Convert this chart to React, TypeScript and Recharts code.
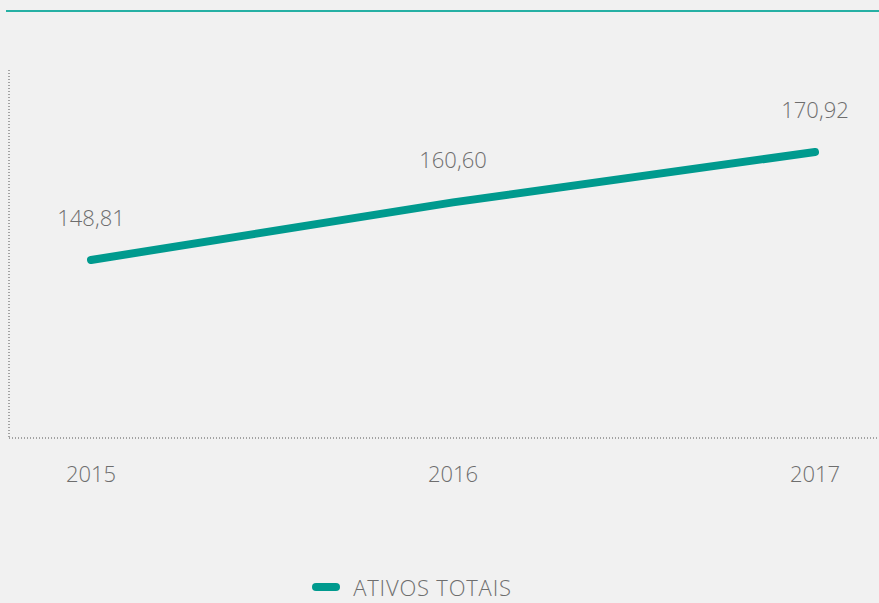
import { LineChart, Line, XAxis, YAxis, LabelList } from 'recharts';

const years = ['2015', '2016', '2017'];
const ativosTotais = [148.81, 160.6, 170.92];
const seriesName = 'ATIVOS TOTAIS';

const data = years.map((y, i) => ({ year: y, value: ativosTotais[i] }));

const teal = '#009a8e';
const textColor = '#6e6e6e';
const font = '"Open Sans", sans-serif';

const fmt = (v: number) => v.toFixed(2).replace('.', ',');

function LegendBox() {
    return (
        <div style={{ display: 'flex', alignItems: 'center', justifyContent: 'center', height: 22 }}>
            <span style={{ display: 'inline-block', width: 28, height: 8, borderRadius: 4, background: teal, marginRight: 13 }} />
            <span style={{ fontFamily: font, fontWeight: 300, fontSize: 22, lineHeight: '22px', letterSpacing: 0.8, color: textColor }}>{seriesName}</span>
        </div>
    );
}

export default function App() {
    return (
        <div style={{ position: 'fixed', top: 0, left: 0, width: 879, height: 603, background: '#f1f1f1', overflow: 'hidden' }}>
            <div style={{ position: 'absolute', top: 10, left: 6, width: 873, height: 2, background: '#26b0a4' }} />
            <LineChart width={879} height={603} data={data} margin={{ top: 70, right: 0, bottom: 135, left: 8 }}>
                <XAxis
                    dataKey="year"
                    height={30}
                    padding={{ left: 82, right: 64 }}
                    axisLine={{ stroke: '#555', strokeDasharray: '1 2' }}
                    tickLine={false}
                    tickMargin={22}
                    tick={{ fill: textColor, fontSize: 22, fontFamily: font, fontWeight: 300 }}
                />
                <YAxis
                    width={1}
                    type="number"
                    domain={[112.37, 187.7]}
                    allowDataOverflow
                    tick={false}
                    tickLine={false}
                    axisLine={{ stroke: '#555', strokeDasharray: '1 2' }}
                />
                <Line
                    dataKey="value"
                    stroke={teal}
                    strokeWidth={8}
                    strokeLinecap="round"
                    dot={false}
                    activeDot={false}
                    isAnimationActive={false}
                >
                    <LabelList
                        dataKey="value"
                        position="top"
                        offset={34}
                        formatter={(v: any) => fmt(Number(v))}
                        style={{ fill: textColor, fontSize: 22, fontFamily: font, fontWeight: 300 }}
                    />
                </Line>
            </LineChart>
            <div style={{ position: 'absolute', top: 576, left: 0, width: 824 }}>
                <LegendBox />
            </div>
        </div>
    );
}
